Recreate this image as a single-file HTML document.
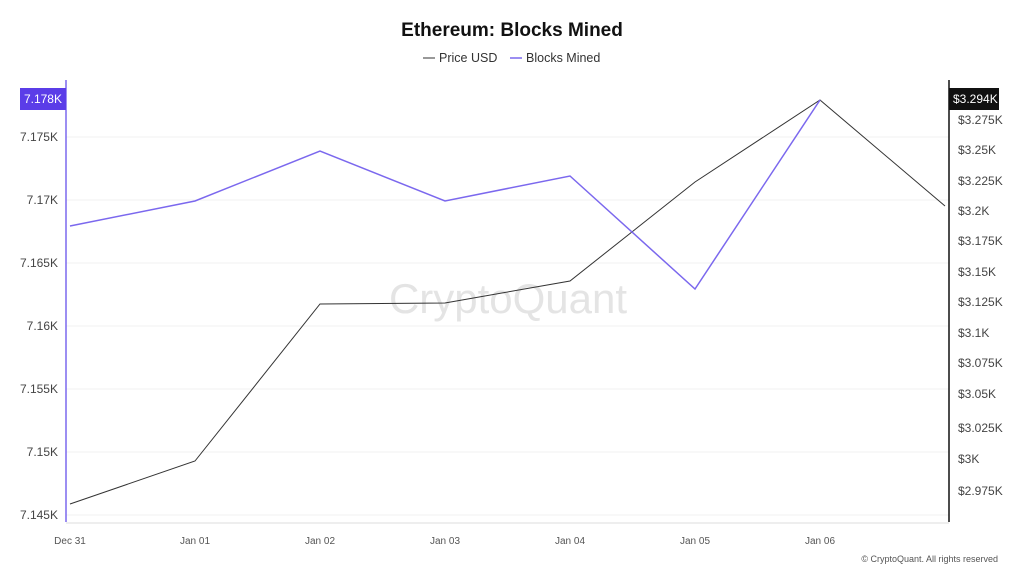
<!DOCTYPE html>
<html><head><meta charset="utf-8"><style>
html,body{margin:0;padding:0;background:#fff;}
body{width:1024px;height:576px;overflow:hidden;font-family:"Liberation Sans",sans-serif;}
</style></head><body>
<svg width="1024" height="576" xmlns="http://www.w3.org/2000/svg" font-family="Liberation Sans, sans-serif">
<rect width="1024" height="576" fill="#fff"/>
<text x="512" y="36" text-anchor="middle" font-size="19" font-weight="bold" fill="#111">Ethereum: Blocks Mined</text>
<line x1="423" y1="58" x2="435" y2="58" stroke="#333" stroke-width="1"/>
<text x="439" y="62" font-size="12.5" fill="#333">Price USD</text>
<line x1="510" y1="58" x2="522" y2="58" stroke="#7b68ee" stroke-width="1.5"/>
<text x="526" y="62" font-size="12.5" fill="#333">Blocks Mined</text>
<g stroke="#f2f2f2" stroke-width="1">
<line x1="66" y1="137" x2="949" y2="137"/><line x1="66" y1="200" x2="949" y2="200"/>
<line x1="66" y1="263" x2="949" y2="263"/><line x1="66" y1="326" x2="949" y2="326"/>
<line x1="66" y1="389" x2="949" y2="389"/><line x1="66" y1="452" x2="949" y2="452"/>
<line x1="66" y1="515" x2="949" y2="515"/>
</g>
<line x1="66" y1="80" x2="66" y2="522" stroke="#7b68ee" stroke-width="1.5"/>
<line x1="949" y1="80" x2="949" y2="522" stroke="#111" stroke-width="1.5"/>
<line x1="66" y1="523" x2="949" y2="523" stroke="#ddd"/>
<g font-size="12" fill="#444" text-anchor="end">
<text x="58" y="141">7.175K</text><text x="58" y="204">7.17K</text><text x="58" y="267">7.165K</text>
<text x="58" y="330">7.16K</text><text x="58" y="393">7.155K</text><text x="58" y="456">7.15K</text><text x="58" y="519">7.145K</text>
</g>
<rect x="20" y="88" width="46" height="22" fill="#5b3de8"/>
<text x="62" y="103" font-size="12" fill="#fff" text-anchor="end">7.178K</text>
<g font-size="12" fill="#444">
<text x="958" y="124">$3.275K</text><text x="958" y="154">$3.25K</text><text x="958" y="185">$3.225K</text>
<text x="958" y="215">$3.2K</text><text x="958" y="245">$3.175K</text><text x="958" y="276">$3.15K</text>
<text x="958" y="306">$3.125K</text><text x="958" y="337">$3.1K</text><text x="958" y="367">$3.075K</text>
<text x="958" y="398">$3.05K</text><text x="958" y="432">$3.025K</text><text x="958" y="463">$3K</text>
<text x="958" y="495">$2.975K</text>
</g>
<rect x="949" y="88" width="50" height="22" fill="#111"/>
<text x="953" y="103" font-size="12" fill="#fff">$3.294K</text>
<g font-size="10" fill="#555" text-anchor="middle">
<text x="70" y="544">Dec 31</text><text x="195" y="544">Jan 01</text><text x="320" y="544">Jan 02</text>
<text x="445" y="544">Jan 03</text><text x="570" y="544">Jan 04</text><text x="695" y="544">Jan 05</text><text x="820" y="544">Jan 06</text>
</g>
<text x="508" y="313" text-anchor="middle" font-size="42" fill="#e4e4e4">CryptoQuant</text>
<polyline fill="none" stroke="#333" stroke-width="1" points="70,504 195,461 320,304 445,303 570,281 695,182 820,100 945,206"/>
<polyline fill="none" stroke="#7b68ee" stroke-width="1.5" points="70,226 195,201 320,151 445,201 570,176 695,289 820,100"/>
<text x="998" y="562" text-anchor="end" font-size="9" fill="#555">© CryptoQuant. All rights reserved</text>
</svg>
</body></html>
